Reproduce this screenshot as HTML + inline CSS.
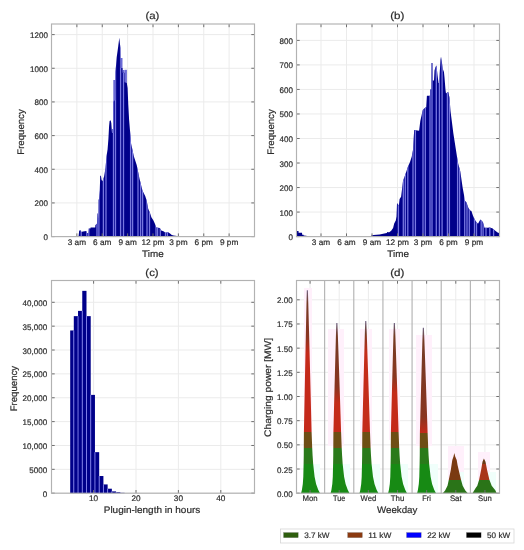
<!DOCTYPE html><html><head><meta charset="utf-8"><style>html,body{margin:0;padding:0;background:#fff;width:524px;height:550px;overflow:hidden}svg{display:block;text-rendering:geometricPrecision;will-change:transform;filter:blur(0.35px)}</style></head><body><svg width="524" height="550" viewBox="0 0 524 550" font-family='"Liberation Sans", sans-serif' fill="#2c2c2c">
<rect width="524" height="550" fill="#fff"/>
<defs>
<linearGradient id="sat" gradientUnits="userSpaceOnUse" x1="0" y1="448" x2="0" y2="493">
<stop offset="0" stop-color="#7a3a12"/><stop offset="0.70" stop-color="#7a3a12"/>
<stop offset="0.70" stop-color="#2a7418"/><stop offset="1" stop-color="#2a7418"/>
</linearGradient>
<linearGradient id="sun" gradientUnits="userSpaceOnUse" x1="0" y1="448" x2="0" y2="493">
<stop offset="0" stop-color="#6a3a14"/><stop offset="0.355" stop-color="#6a3a14"/>
<stop offset="0.355" stop-color="#a8361a"/><stop offset="0.70" stop-color="#a8361a"/>
<stop offset="0.70" stop-color="#2a7418"/><stop offset="1" stop-color="#2a7418"/>
</linearGradient>
</defs>
<line x1="76.88" y1="24.0" x2="76.88" y2="236.6" stroke="#ebebeb" stroke-width="1"/>
<line x1="102.25" y1="24.0" x2="102.25" y2="236.6" stroke="#ebebeb" stroke-width="1"/>
<line x1="127.62" y1="24.0" x2="127.62" y2="236.6" stroke="#ebebeb" stroke-width="1"/>
<line x1="153.00" y1="24.0" x2="153.00" y2="236.6" stroke="#ebebeb" stroke-width="1"/>
<line x1="178.38" y1="24.0" x2="178.38" y2="236.6" stroke="#ebebeb" stroke-width="1"/>
<line x1="203.75" y1="24.0" x2="203.75" y2="236.6" stroke="#ebebeb" stroke-width="1"/>
<line x1="229.12" y1="24.0" x2="229.12" y2="236.6" stroke="#ebebeb" stroke-width="1"/>
<line x1="51.5" y1="236.60" x2="254.5" y2="236.60" stroke="#ebebeb" stroke-width="1"/>
<line x1="51.5" y1="202.93" x2="254.5" y2="202.93" stroke="#ebebeb" stroke-width="1"/>
<line x1="51.5" y1="169.27" x2="254.5" y2="169.27" stroke="#ebebeb" stroke-width="1"/>
<line x1="51.5" y1="135.60" x2="254.5" y2="135.60" stroke="#ebebeb" stroke-width="1"/>
<line x1="51.5" y1="101.93" x2="254.5" y2="101.93" stroke="#ebebeb" stroke-width="1"/>
<line x1="51.5" y1="68.27" x2="254.5" y2="68.27" stroke="#ebebeb" stroke-width="1"/>
<line x1="51.5" y1="34.60" x2="254.5" y2="34.60" stroke="#ebebeb" stroke-width="1"/>
<line x1="321.00" y1="24.0" x2="321.00" y2="236.6" stroke="#ebebeb" stroke-width="1"/>
<line x1="346.50" y1="24.0" x2="346.50" y2="236.6" stroke="#ebebeb" stroke-width="1"/>
<line x1="372.00" y1="24.0" x2="372.00" y2="236.6" stroke="#ebebeb" stroke-width="1"/>
<line x1="397.50" y1="24.0" x2="397.50" y2="236.6" stroke="#ebebeb" stroke-width="1"/>
<line x1="423.00" y1="24.0" x2="423.00" y2="236.6" stroke="#ebebeb" stroke-width="1"/>
<line x1="448.50" y1="24.0" x2="448.50" y2="236.6" stroke="#ebebeb" stroke-width="1"/>
<line x1="474.00" y1="24.0" x2="474.00" y2="236.6" stroke="#ebebeb" stroke-width="1"/>
<line x1="296.5" y1="236.60" x2="499.5" y2="236.60" stroke="#ebebeb" stroke-width="1"/>
<line x1="296.5" y1="212.07" x2="499.5" y2="212.07" stroke="#ebebeb" stroke-width="1"/>
<line x1="296.5" y1="187.55" x2="499.5" y2="187.55" stroke="#ebebeb" stroke-width="1"/>
<line x1="296.5" y1="163.02" x2="499.5" y2="163.02" stroke="#ebebeb" stroke-width="1"/>
<line x1="296.5" y1="138.50" x2="499.5" y2="138.50" stroke="#ebebeb" stroke-width="1"/>
<line x1="296.5" y1="113.97" x2="499.5" y2="113.97" stroke="#ebebeb" stroke-width="1"/>
<line x1="296.5" y1="89.45" x2="499.5" y2="89.45" stroke="#ebebeb" stroke-width="1"/>
<line x1="296.5" y1="64.92" x2="499.5" y2="64.92" stroke="#ebebeb" stroke-width="1"/>
<line x1="296.5" y1="40.40" x2="499.5" y2="40.40" stroke="#ebebeb" stroke-width="1"/>
<line x1="93.60" y1="280.5" x2="93.60" y2="493.2" stroke="#ebebeb" stroke-width="1"/>
<line x1="136.00" y1="280.5" x2="136.00" y2="493.2" stroke="#ebebeb" stroke-width="1"/>
<line x1="178.40" y1="280.5" x2="178.40" y2="493.2" stroke="#ebebeb" stroke-width="1"/>
<line x1="220.80" y1="280.5" x2="220.80" y2="493.2" stroke="#ebebeb" stroke-width="1"/>
<line x1="51.5" y1="493.20" x2="254.5" y2="493.20" stroke="#ebebeb" stroke-width="1"/>
<line x1="51.5" y1="469.34" x2="254.5" y2="469.34" stroke="#ebebeb" stroke-width="1"/>
<line x1="51.5" y1="445.48" x2="254.5" y2="445.48" stroke="#ebebeb" stroke-width="1"/>
<line x1="51.5" y1="421.61" x2="254.5" y2="421.61" stroke="#ebebeb" stroke-width="1"/>
<line x1="51.5" y1="397.75" x2="254.5" y2="397.75" stroke="#ebebeb" stroke-width="1"/>
<line x1="51.5" y1="373.89" x2="254.5" y2="373.89" stroke="#ebebeb" stroke-width="1"/>
<line x1="51.5" y1="350.02" x2="254.5" y2="350.02" stroke="#ebebeb" stroke-width="1"/>
<line x1="51.5" y1="326.16" x2="254.5" y2="326.16" stroke="#ebebeb" stroke-width="1"/>
<line x1="51.5" y1="302.30" x2="254.5" y2="302.30" stroke="#ebebeb" stroke-width="1"/>
<line x1="310.07" y1="280.5" x2="310.07" y2="493.2" stroke="#ebebeb" stroke-width="1"/>
<line x1="339.21" y1="280.5" x2="339.21" y2="493.2" stroke="#ebebeb" stroke-width="1"/>
<line x1="368.36" y1="280.5" x2="368.36" y2="493.2" stroke="#ebebeb" stroke-width="1"/>
<line x1="397.50" y1="280.5" x2="397.50" y2="493.2" stroke="#ebebeb" stroke-width="1"/>
<line x1="426.64" y1="280.5" x2="426.64" y2="493.2" stroke="#ebebeb" stroke-width="1"/>
<line x1="455.79" y1="280.5" x2="455.79" y2="493.2" stroke="#ebebeb" stroke-width="1"/>
<line x1="484.93" y1="280.5" x2="484.93" y2="493.2" stroke="#ebebeb" stroke-width="1"/>
<line x1="296.5" y1="493.20" x2="499.5" y2="493.20" stroke="#ebebeb" stroke-width="1"/>
<line x1="296.5" y1="469.02" x2="499.5" y2="469.02" stroke="#ebebeb" stroke-width="1"/>
<line x1="296.5" y1="444.85" x2="499.5" y2="444.85" stroke="#ebebeb" stroke-width="1"/>
<line x1="296.5" y1="420.68" x2="499.5" y2="420.68" stroke="#ebebeb" stroke-width="1"/>
<line x1="296.5" y1="396.50" x2="499.5" y2="396.50" stroke="#ebebeb" stroke-width="1"/>
<line x1="296.5" y1="372.32" x2="499.5" y2="372.32" stroke="#ebebeb" stroke-width="1"/>
<line x1="296.5" y1="348.15" x2="499.5" y2="348.15" stroke="#ebebeb" stroke-width="1"/>
<line x1="296.5" y1="323.98" x2="499.5" y2="323.98" stroke="#ebebeb" stroke-width="1"/>
<line x1="296.5" y1="299.80" x2="499.5" y2="299.80" stroke="#ebebeb" stroke-width="1"/>
<clipPath id="ca"><polygon points="76.50,236.50 76.50,236.50 78.60,236.00 79.20,230.50 81.00,230.50 81.20,232.00 83.00,231.50 86.30,231.00 86.80,233.00 88.50,233.00 88.80,228.50 90.40,228.50 90.60,227.50 95.20,227.50 95.40,225.00 96.90,224.00 97.20,220.00 97.50,213.50 98.00,213.50 98.20,218.00 98.50,218.00 98.60,200.00 99.10,198.70 99.80,190.00 100.20,176.00 100.90,175.50 101.60,180.00 102.50,181.30 104.00,177.00 105.50,168.00 106.50,156.50 107.60,149.30 108.40,139.00 109.10,126.00 109.60,121.00 110.60,120.20 111.30,123.00 112.00,133.00 113.20,133.00 113.30,102.00 115.20,100.00 115.50,72.00 116.70,57.30 118.20,46.40 119.30,37.80 120.40,48.00 120.60,68.00 122.50,68.00 122.60,72.70 124.50,72.70 124.60,82.20 126.80,83.00 127.60,88.00 128.30,105.00 129.10,119.70 131.10,143.70 133.90,156.50 136.70,165.00 139.60,179.00 142.40,190.50 145.20,196.00 146.50,200.00 148.20,208.70 150.00,213.00 151.50,217.40 153.30,220.30 154.70,223.30 156.20,227.60 159.80,228.00 161.30,230.50 163.40,231.20 165.60,232.70 167.80,232.00 170.00,233.40 171.80,234.90 173.60,235.60 177.00,236.00 177.50,236.60 177.50,236.50"/></clipPath>
<clipPath id="cb"><polygon points="296.30,236.50 296.30,231.00 298.50,231.00 298.60,232.80 302.00,232.80 302.20,234.70 303.50,234.70 303.70,235.60 306.00,235.80 309.00,236.60 371.00,236.60 371.50,235.60 373.60,234.90 379.70,234.50 384.30,233.40 386.80,233.00 387.40,231.90 388.20,231.90 388.90,232.60 391.20,230.70 393.10,228.00 394.20,223.50 395.80,220.40 396.50,216.60 397.00,203.60 397.60,203.60 398.80,205.90 399.60,199.00 401.10,196.80 403.00,181.00 405.50,174.00 408.00,166.50 410.00,162.00 411.70,156.70 413.00,150.00 414.20,130.00 419.10,130.80 420.30,121.00 422.80,109.90 425.30,107.40 426.20,107.40 426.90,95.80 430.00,95.80 430.10,89.50 431.40,89.50 431.50,63.00 432.50,63.00 432.60,80.40 434.00,80.40 434.50,70.40 435.50,67.00 436.50,65.40 437.50,74.90 438.50,83.00 439.00,83.00 439.50,77.60 440.50,59.50 441.00,56.70 442.00,63.00 443.00,72.00 443.70,69.50 444.50,77.60 445.50,90.00 446.00,93.60 447.60,92.20 448.40,92.20 449.50,98.00 450.50,111.00 452.00,122.70 453.30,133.00 455.60,147.80 458.00,163.10 460.30,171.40 462.70,187.90 464.00,195.00 464.50,200.30 466.50,202.40 468.10,207.30 469.80,210.20 471.40,211.00 473.10,215.90 474.70,219.60 476.30,222.00 478.00,223.70 479.50,221.00 480.40,219.60 482.90,222.00 484.50,227.80 487.40,227.80 489.90,227.40 492.70,228.60 495.60,231.00 498.00,232.70 499.50,233.00 499.50,236.50"/></clipPath>
<rect x="113.30" y="80.00" width="2.20" height="156.50" fill="#6a6ad6"/>
<rect x="120.40" y="58.00" width="2.10" height="178.50" fill="#6a6ad6"/>
<rect x="122.50" y="70.00" width="2.00" height="166.50" fill="#6a6ad6"/>
<rect x="124.50" y="69.80" width="2.40" height="166.70" fill="#6a6ad6"/>
<rect x="112.00" y="129.00" width="1.30" height="107.50" fill="#6a6ad6"/>
<polygon points="76.50,236.50 76.50,236.50 78.60,236.00 79.20,230.50 81.00,230.50 81.20,232.00 83.00,231.50 86.30,231.00 86.80,233.00 88.50,233.00 88.80,228.50 90.40,228.50 90.60,227.50 95.20,227.50 95.40,225.00 96.90,224.00 97.20,220.00 97.50,213.50 98.00,213.50 98.20,218.00 98.50,218.00 98.60,200.00 99.10,198.70 99.80,190.00 100.20,176.00 100.90,175.50 101.60,180.00 102.50,181.30 104.00,177.00 105.50,168.00 106.50,156.50 107.60,149.30 108.40,139.00 109.10,126.00 109.60,121.00 110.60,120.20 111.30,123.00 112.00,133.00 113.20,133.00 113.30,102.00 115.20,100.00 115.50,72.00 116.70,57.30 118.20,46.40 119.30,37.80 120.40,48.00 120.60,68.00 122.50,68.00 122.60,72.70 124.50,72.70 124.60,82.20 126.80,83.00 127.60,88.00 128.30,105.00 129.10,119.70 131.10,143.70 133.90,156.50 136.70,165.00 139.60,179.00 142.40,190.50 145.20,196.00 146.50,200.00 148.20,208.70 150.00,213.00 151.50,217.40 153.30,220.30 154.70,223.30 156.20,227.60 159.80,228.00 161.30,230.50 163.40,231.20 165.60,232.70 167.80,232.00 170.00,233.40 171.80,234.90 173.60,235.60 177.00,236.00 177.50,236.60 177.50,236.50" fill="#00008a"/>
<polygon points="296.30,236.50 296.30,231.00 298.50,231.00 298.60,232.80 302.00,232.80 302.20,234.70 303.50,234.70 303.70,235.60 306.00,235.80 309.00,236.60 371.00,236.60 371.50,235.60 373.60,234.90 379.70,234.50 384.30,233.40 386.80,233.00 387.40,231.90 388.20,231.90 388.90,232.60 391.20,230.70 393.10,228.00 394.20,223.50 395.80,220.40 396.50,216.60 397.00,203.60 397.60,203.60 398.80,205.90 399.60,199.00 401.10,196.80 403.00,181.00 405.50,174.00 408.00,166.50 410.00,162.00 411.70,156.70 413.00,150.00 414.20,130.00 419.10,130.80 420.30,121.00 422.80,109.90 425.30,107.40 426.20,107.40 426.90,95.80 430.00,95.80 430.10,89.50 431.40,89.50 431.50,63.00 432.50,63.00 432.60,80.40 434.00,80.40 434.50,70.40 435.50,67.00 436.50,65.40 437.50,74.90 438.50,83.00 439.00,83.00 439.50,77.60 440.50,59.50 441.00,56.70 442.00,63.00 443.00,72.00 443.70,69.50 444.50,77.60 445.50,90.00 446.00,93.60 447.60,92.20 448.40,92.20 449.50,98.00 450.50,111.00 452.00,122.70 453.30,133.00 455.60,147.80 458.00,163.10 460.30,171.40 462.70,187.90 464.00,195.00 464.50,200.30 466.50,202.40 468.10,207.30 469.80,210.20 471.40,211.00 473.10,215.90 474.70,219.60 476.30,222.00 478.00,223.70 479.50,221.00 480.40,219.60 482.90,222.00 484.50,227.80 487.40,227.80 489.90,227.40 492.70,228.60 495.60,231.00 498.00,232.70 499.50,233.00 499.50,236.50" fill="#00008a"/>
<g clip-path="url(#ca)"><rect x="80.55" y="24" width="1.3" height="213" fill="#7676e0"/><rect x="86.15" y="24" width="1.3" height="213" fill="#7676e0"/><rect x="88.15" y="24" width="1.3" height="213" fill="#7676e0"/><rect x="96.35" y="24" width="1.3" height="213" fill="#7676e0"/><rect x="98.25" y="24" width="1.3" height="213" fill="#7676e0"/><rect x="102.75" y="24" width="1.3" height="213" fill="#7676e0"/><rect x="105.35" y="24" width="1.3" height="213" fill="#7676e0"/><rect x="112.85" y="24" width="1.3" height="213" fill="#7676e0"/><rect x="114.85" y="24" width="1.3" height="213" fill="#7676e0"/><rect x="119.95" y="24" width="1.3" height="213" fill="#7676e0"/><rect x="122.85" y="24" width="1.3" height="213" fill="#7676e0"/><rect x="129.95" y="24" width="1.3" height="213" fill="#7676e0"/><rect x="131.95" y="24" width="1.3" height="213" fill="#7676e0"/><rect x="137.35" y="24" width="1.3" height="213" fill="#7676e0"/><rect x="139.95" y="24" width="1.3" height="213" fill="#7676e0"/><rect x="141.95" y="24" width="1.3" height="213" fill="#7676e0"/><rect x="146.35" y="24" width="1.3" height="213" fill="#7676e0"/><rect x="148.85" y="24" width="1.3" height="213" fill="#7676e0"/><rect x="155.35" y="24" width="1.3" height="213" fill="#7676e0"/><rect x="156.95" y="24" width="1.3" height="213" fill="#7676e0"/><rect x="159.65" y="24" width="1.3" height="213" fill="#7676e0"/><rect x="164.85" y="24" width="1.3" height="213" fill="#7676e0"/><rect x="166.75" y="24" width="1.3" height="213" fill="#7676e0"/></g>
<g clip-path="url(#cb)"><rect x="397.75" y="24" width="1.3" height="213" fill="#7676e0"/><rect x="402.65" y="24" width="1.3" height="213" fill="#7676e0"/><rect x="404.65" y="24" width="1.3" height="213" fill="#7676e0"/><rect x="407.15" y="24" width="1.3" height="213" fill="#7676e0"/><rect x="412.35" y="24" width="1.3" height="213" fill="#7676e0"/><rect x="414.75" y="24" width="1.3" height="213" fill="#7676e0"/><rect x="422.35" y="24" width="1.3" height="213" fill="#7676e0"/><rect x="424.65" y="24" width="1.3" height="213" fill="#7676e0"/><rect x="429.35" y="24" width="1.3" height="213" fill="#7676e0"/><rect x="431.35" y="24" width="1.3" height="213" fill="#7676e0"/><rect x="435.65" y="24" width="1.3" height="213" fill="#7676e0"/><rect x="438.75" y="24" width="1.3" height="213" fill="#7676e0"/><rect x="441.45" y="24" width="1.3" height="213" fill="#7676e0"/><rect x="446.75" y="24" width="1.3" height="213" fill="#7676e0"/><rect x="448.75" y="24" width="1.3" height="213" fill="#7676e0"/><rect x="456.95" y="24" width="1.3" height="213" fill="#7676e0"/><rect x="458.95" y="24" width="1.3" height="213" fill="#7676e0"/><rect x="464.05" y="24" width="1.3" height="213" fill="#7676e0"/><rect x="466.35" y="24" width="1.3" height="213" fill="#7676e0"/><rect x="468.65" y="24" width="1.3" height="213" fill="#7676e0"/><rect x="473.85" y="24" width="1.3" height="213" fill="#7676e0"/><rect x="475.85" y="24" width="1.3" height="213" fill="#7676e0"/><rect x="480.55" y="24" width="1.3" height="213" fill="#7676e0"/><rect x="482.45" y="24" width="1.3" height="213" fill="#7676e0"/><rect x="485.35" y="24" width="1.3" height="213" fill="#7676e0"/><rect x="489.15" y="24" width="1.3" height="213" fill="#7676e0"/><rect x="492.95" y="24" width="1.3" height="213" fill="#7676e0"/></g>
<rect x="70.20" y="330.46" width="3.60" height="162.74" fill="#00008a"/>
<rect x="73.80" y="316.14" width="4.23" height="177.06" fill="#00008a"/>
<rect x="78.03" y="310.89" width="4.23" height="182.31" fill="#00008a"/>
<rect x="82.26" y="290.85" width="4.23" height="202.35" fill="#00008a"/>
<rect x="86.49" y="316.14" width="4.23" height="177.06" fill="#00008a"/>
<rect x="90.72" y="394.89" width="4.23" height="98.31" fill="#00008a"/>
<rect x="94.95" y="452.16" width="4.23" height="41.04" fill="#00008a"/>
<rect x="99.18" y="476.02" width="4.23" height="17.18" fill="#00008a"/>
<rect x="103.41" y="484.42" width="4.23" height="8.78" fill="#00008a"/>
<rect x="107.64" y="488.71" width="4.23" height="4.49" fill="#00008a"/>
<rect x="111.87" y="491.39" width="4.23" height="1.81" fill="#00008a"/>
<rect x="116.10" y="492.25" width="4.23" height="0.95" fill="#00008a"/>
<rect x="120.33" y="492.82" width="4.23" height="0.38" fill="#00008a"/>
<rect x="73.35" y="330.46" width="0.9" height="162.74" fill="#8484ee"/>
<rect x="77.58" y="316.14" width="0.9" height="177.06" fill="#8484ee"/>
<rect x="81.81" y="310.89" width="0.9" height="182.31" fill="#8484ee"/>
<rect x="86.04" y="316.14" width="0.9" height="177.06" fill="#8484ee"/>
<rect x="90.27" y="394.89" width="0.9" height="98.31" fill="#8484ee"/>
<rect x="94.50" y="452.16" width="0.9" height="41.04" fill="#8484ee"/>
<rect x="98.73" y="476.02" width="0.9" height="17.18" fill="#8484ee"/>
<rect x="102.96" y="484.42" width="0.9" height="8.78" fill="#8484ee"/>
<rect x="107.19" y="488.71" width="0.9" height="4.49" fill="#8484ee"/>
<rect x="111.42" y="491.39" width="0.9" height="1.81" fill="#8484ee"/>
<rect x="115.65" y="492.25" width="0.9" height="0.95" fill="#8484ee"/>
<rect x="119.88" y="492.82" width="0.9" height="0.38" fill="#8484ee"/>
<rect x="304" y="288" width="8" height="152" fill="#fff0fb"/>
<rect x="328" y="329" width="16" height="117" fill="#fff0fb"/>
<rect x="360" y="329" width="12" height="117" fill="#fff0fb"/>
<rect x="389" y="329" width="11" height="111" fill="#fff0fb"/>
<rect x="416" y="335" width="16" height="111" fill="#fff0fb"/>
<rect x="448" y="446" width="16" height="34" fill="#fff0fb"/>
<rect x="478" y="452" width="12" height="28" fill="#fff0fb"/>
<rect x="312" y="464" width="8" height="30" fill="#f0fffb"/>
<rect x="342" y="464" width="8" height="30" fill="#f0fffb"/>
<rect x="372" y="464" width="8" height="30" fill="#f0fffb"/>
<rect x="400" y="464" width="8" height="30" fill="#f0fffb"/>
<rect x="430" y="464" width="8" height="30" fill="#f0fffb"/>
<rect x="456" y="472" width="8" height="22" fill="#f0fffb"/>
<rect x="488" y="472" width="8" height="22" fill="#f0fffb"/>
<line x1="324.64" y1="280.5" x2="324.64" y2="493.2" stroke="#b0b0b0" stroke-width="1.1"/>
<line x1="353.79" y1="280.5" x2="353.79" y2="493.2" stroke="#b0b0b0" stroke-width="1.1"/>
<line x1="382.93" y1="280.5" x2="382.93" y2="493.2" stroke="#b0b0b0" stroke-width="1.1"/>
<line x1="412.07" y1="280.5" x2="412.07" y2="493.2" stroke="#b0b0b0" stroke-width="1.1"/>
<line x1="441.21" y1="280.5" x2="441.21" y2="493.2" stroke="#b0b0b0" stroke-width="1.1"/>
<line x1="470.36" y1="280.5" x2="470.36" y2="493.2" stroke="#b0b0b0" stroke-width="1.1"/>
<defs><linearGradient id="wk0" gradientUnits="userSpaceOnUse" x1="0" y1="290.13" x2="0" y2="493.2">
<stop offset="0" stop-color="#6c6080"/><stop offset="0.0640" stop-color="#743a24"/>
<stop offset="0.2308" stop-color="#8a3420"/><stop offset="0.3096" stop-color="#c42a1a"/>
<stop offset="0.6986" stop-color="#c42a1a"/><stop offset="0.6986" stop-color="#6e4e14"/>
<stop offset="0.7774" stop-color="#6e4e14"/><stop offset="0.7774" stop-color="#2a7a1a"/>
<stop offset="0.8562" stop-color="#2a7a1a"/><stop offset="0.8562" stop-color="#178a14"/>
<stop offset="1" stop-color="#178a14"/></linearGradient></defs>
<polygon points="306.80,290.13 306.53,301.98 306.27,313.82 306.02,325.67 305.78,337.51 305.54,349.36 305.30,361.20 305.06,373.05 304.83,384.90 304.59,396.74 304.36,408.59 304.13,420.43 303.90,432.28 303.80,447.75 303.75,455.49 303.60,464.19 303.30,476.76 302.80,484.01 301.90,490.01 301.10,493.20 320.00,493.20 318.30,490.01 316.10,484.01 314.60,476.76 313.20,464.19 312.60,455.49 312.20,447.75 311.60,432.28 311.31,420.43 311.01,408.59 310.72,396.74 310.42,384.90 310.12,373.05 309.82,361.20 309.51,349.36 309.20,337.51 308.89,325.67 308.57,313.82 308.25,301.98 307.90,290.13" fill="url(#wk0)"/>
<defs><linearGradient id="wk1" gradientUnits="userSpaceOnUse" x1="0" y1="323.01" x2="0" y2="493.2">
<stop offset="0" stop-color="#6c6080"/><stop offset="0.0764" stop-color="#743a24"/>
<stop offset="0.3760" stop-color="#8a3420"/><stop offset="0.4700" stop-color="#c42a1a"/>
<stop offset="0.6404" stop-color="#c42a1a"/><stop offset="0.6404" stop-color="#6e4e14"/>
<stop offset="0.7344" stop-color="#6e4e14"/><stop offset="0.7344" stop-color="#2a7a1a"/>
<stop offset="0.8284" stop-color="#2a7a1a"/><stop offset="0.8284" stop-color="#178a14"/>
<stop offset="1" stop-color="#178a14"/></linearGradient></defs>
<polygon points="336.30,323.01 336.03,332.11 335.77,341.22 335.52,350.33 335.28,359.43 335.04,368.54 334.80,377.64 334.56,386.75 334.33,395.86 334.09,404.96 333.86,414.07 333.63,423.17 333.40,432.28 333.30,447.75 333.25,455.49 333.10,464.19 332.80,476.76 332.30,484.01 331.40,490.01 330.60,493.20 349.50,493.20 347.80,490.01 345.60,484.01 344.10,476.76 342.70,464.19 342.10,455.49 341.70,447.75 341.10,432.28 340.81,423.17 340.51,414.07 340.22,404.96 339.92,395.86 339.62,386.75 339.32,377.64 339.01,368.54 338.70,359.43 338.39,350.33 338.07,341.22 337.75,332.11 337.40,323.01" fill="url(#wk1)"/>
<defs><linearGradient id="wk2" gradientUnits="userSpaceOnUse" x1="0" y1="321.07" x2="0" y2="493.2">
<stop offset="0" stop-color="#6c6080"/><stop offset="0.0755" stop-color="#743a24"/>
<stop offset="0.0925" stop-color="#8a3420"/><stop offset="0.1855" stop-color="#c42a1a"/>
<stop offset="0.6444" stop-color="#c42a1a"/><stop offset="0.6444" stop-color="#6e4e14"/>
<stop offset="0.7374" stop-color="#6e4e14"/><stop offset="0.7374" stop-color="#2a7a1a"/>
<stop offset="0.8304" stop-color="#2a7a1a"/><stop offset="0.8304" stop-color="#178a14"/>
<stop offset="1" stop-color="#178a14"/></linearGradient></defs>
<polygon points="365.20,321.07 364.93,330.34 364.67,339.61 364.42,348.88 364.18,358.14 363.94,367.41 363.70,376.68 363.46,385.94 363.23,395.21 362.99,404.48 362.76,413.74 362.53,423.01 362.30,432.28 362.20,447.75 362.15,455.49 362.00,464.19 361.70,476.76 361.20,484.01 360.30,490.01 359.50,493.20 378.40,493.20 376.70,490.01 374.50,484.01 373.00,476.76 371.60,464.19 371.00,455.49 370.60,447.75 370.00,432.28 369.71,423.01 369.41,413.74 369.12,404.48 368.82,395.21 368.52,385.94 368.22,376.68 367.91,367.41 367.60,358.14 367.29,348.88 366.97,339.61 366.65,330.34 366.30,321.07" fill="url(#wk2)"/>
<defs><linearGradient id="wk3" gradientUnits="userSpaceOnUse" x1="0" y1="323.01" x2="0" y2="493.2">
<stop offset="0" stop-color="#6c6080"/><stop offset="0.0764" stop-color="#743a24"/>
<stop offset="0.3172" stop-color="#8a3420"/><stop offset="0.4113" stop-color="#c42a1a"/>
<stop offset="0.6404" stop-color="#c42a1a"/><stop offset="0.6404" stop-color="#6e4e14"/>
<stop offset="0.7344" stop-color="#6e4e14"/><stop offset="0.7344" stop-color="#2a7a1a"/>
<stop offset="0.8284" stop-color="#2a7a1a"/><stop offset="0.8284" stop-color="#178a14"/>
<stop offset="1" stop-color="#178a14"/></linearGradient></defs>
<polygon points="393.80,323.01 393.53,332.11 393.27,341.22 393.02,350.33 392.78,359.43 392.54,368.54 392.30,377.64 392.06,386.75 391.83,395.86 391.59,404.96 391.36,414.07 391.13,423.17 390.90,432.28 390.80,447.75 390.75,455.49 390.60,464.19 390.30,476.76 389.80,484.01 388.90,490.01 388.10,493.20 407.00,493.20 405.30,490.01 403.10,484.01 401.60,476.76 400.20,464.19 399.60,455.49 399.20,447.75 398.60,432.28 398.31,423.17 398.01,414.07 397.72,404.96 397.42,395.86 397.12,386.75 396.82,377.64 396.51,368.54 396.20,359.43 395.89,350.33 395.57,341.22 395.25,332.11 394.90,323.01" fill="url(#wk3)"/>
<defs><linearGradient id="wk4" gradientUnits="userSpaceOnUse" x1="0" y1="327.84" x2="0" y2="493.2">
<stop offset="0" stop-color="#6c6080"/><stop offset="0.0786" stop-color="#743a24"/>
<stop offset="0.5392" stop-color="#8a3420"/><stop offset="0.6359" stop-color="#c42a1a"/>
<stop offset="0.6299" stop-color="#c42a1a"/><stop offset="0.6299" stop-color="#6e4e14"/>
<stop offset="0.7267" stop-color="#6e4e14"/><stop offset="0.7267" stop-color="#2a7a1a"/>
<stop offset="0.8234" stop-color="#2a7a1a"/><stop offset="0.8234" stop-color="#178a14"/>
<stop offset="1" stop-color="#178a14"/></linearGradient></defs>
<polygon points="422.80,327.84 422.53,336.55 422.27,345.25 422.02,353.95 421.78,362.66 421.54,371.36 421.30,380.06 421.06,388.76 420.83,397.47 420.59,406.17 420.36,414.87 420.13,423.58 419.90,432.28 419.80,447.75 419.75,455.49 419.60,464.19 419.30,476.76 418.80,484.01 417.90,490.01 417.10,493.20 436.00,493.20 434.30,490.01 432.10,484.01 430.60,476.76 429.20,464.19 428.60,455.49 428.20,447.75 427.60,432.28 427.31,423.58 427.01,414.87 426.72,406.17 426.42,397.47 426.12,388.76 425.82,380.06 425.51,371.36 425.20,362.66 424.89,353.95 424.57,345.25 424.25,336.55 423.90,327.84" fill="url(#wk4)"/>
<polygon points="454.30,452.97 453.50,456.45 452.30,459.94 451.50,465.16 450.80,469.99 448.80,479.66 447.50,485.66 445.10,490.59 442.80,493.20 467.80,493.20 465.30,490.59 462.70,485.66 461.00,479.66 458.70,469.99 457.60,465.16 456.70,459.94 455.20,456.45 454.30,452.97" fill="url(#sat)"/>
<polygon points="483.90,458.58 482.50,461.77 481.10,469.99 479.10,479.66 477.30,485.66 475.50,488.37 474.30,490.30 472.50,493.20 496.70,493.20 495.30,490.30 493.70,488.37 491.70,485.66 489.40,479.66 487.10,469.99 485.50,461.77 483.90,458.58" fill="url(#sun)"/>
<line x1="76.88" y1="236.6" x2="76.88" y2="233.4" stroke="#6e6e6e" stroke-width="1.0"/>
<line x1="76.88" y1="24.0" x2="76.88" y2="27.2" stroke="#6e6e6e" stroke-width="1.0"/>
<line x1="102.25" y1="236.6" x2="102.25" y2="233.4" stroke="#6e6e6e" stroke-width="1.0"/>
<line x1="102.25" y1="24.0" x2="102.25" y2="27.2" stroke="#6e6e6e" stroke-width="1.0"/>
<line x1="127.62" y1="236.6" x2="127.62" y2="233.4" stroke="#6e6e6e" stroke-width="1.0"/>
<line x1="127.62" y1="24.0" x2="127.62" y2="27.2" stroke="#6e6e6e" stroke-width="1.0"/>
<line x1="153.00" y1="236.6" x2="153.00" y2="233.4" stroke="#6e6e6e" stroke-width="1.0"/>
<line x1="153.00" y1="24.0" x2="153.00" y2="27.2" stroke="#6e6e6e" stroke-width="1.0"/>
<line x1="178.38" y1="236.6" x2="178.38" y2="233.4" stroke="#6e6e6e" stroke-width="1.0"/>
<line x1="178.38" y1="24.0" x2="178.38" y2="27.2" stroke="#6e6e6e" stroke-width="1.0"/>
<line x1="203.75" y1="236.6" x2="203.75" y2="233.4" stroke="#6e6e6e" stroke-width="1.0"/>
<line x1="203.75" y1="24.0" x2="203.75" y2="27.2" stroke="#6e6e6e" stroke-width="1.0"/>
<line x1="229.12" y1="236.6" x2="229.12" y2="233.4" stroke="#6e6e6e" stroke-width="1.0"/>
<line x1="229.12" y1="24.0" x2="229.12" y2="27.2" stroke="#6e6e6e" stroke-width="1.0"/>
<line x1="51.5" y1="236.60" x2="54.7" y2="236.60" stroke="#6e6e6e" stroke-width="1.0"/>
<line x1="254.5" y1="236.60" x2="251.3" y2="236.60" stroke="#6e6e6e" stroke-width="1.0"/>
<line x1="51.5" y1="202.93" x2="54.7" y2="202.93" stroke="#6e6e6e" stroke-width="1.0"/>
<line x1="254.5" y1="202.93" x2="251.3" y2="202.93" stroke="#6e6e6e" stroke-width="1.0"/>
<line x1="51.5" y1="169.27" x2="54.7" y2="169.27" stroke="#6e6e6e" stroke-width="1.0"/>
<line x1="254.5" y1="169.27" x2="251.3" y2="169.27" stroke="#6e6e6e" stroke-width="1.0"/>
<line x1="51.5" y1="135.60" x2="54.7" y2="135.60" stroke="#6e6e6e" stroke-width="1.0"/>
<line x1="254.5" y1="135.60" x2="251.3" y2="135.60" stroke="#6e6e6e" stroke-width="1.0"/>
<line x1="51.5" y1="101.93" x2="54.7" y2="101.93" stroke="#6e6e6e" stroke-width="1.0"/>
<line x1="254.5" y1="101.93" x2="251.3" y2="101.93" stroke="#6e6e6e" stroke-width="1.0"/>
<line x1="51.5" y1="68.27" x2="54.7" y2="68.27" stroke="#6e6e6e" stroke-width="1.0"/>
<line x1="254.5" y1="68.27" x2="251.3" y2="68.27" stroke="#6e6e6e" stroke-width="1.0"/>
<line x1="51.5" y1="34.60" x2="54.7" y2="34.60" stroke="#6e6e6e" stroke-width="1.0"/>
<line x1="254.5" y1="34.60" x2="251.3" y2="34.60" stroke="#6e6e6e" stroke-width="1.0"/>
<rect x="51.5" y="24.0" width="203.00" height="212.60" fill="none" stroke="#b2b2b2" stroke-width="1.15"/>
<line x1="321.00" y1="236.6" x2="321.00" y2="233.4" stroke="#6e6e6e" stroke-width="1.0"/>
<line x1="321.00" y1="24.0" x2="321.00" y2="27.2" stroke="#6e6e6e" stroke-width="1.0"/>
<line x1="346.50" y1="236.6" x2="346.50" y2="233.4" stroke="#6e6e6e" stroke-width="1.0"/>
<line x1="346.50" y1="24.0" x2="346.50" y2="27.2" stroke="#6e6e6e" stroke-width="1.0"/>
<line x1="372.00" y1="236.6" x2="372.00" y2="233.4" stroke="#6e6e6e" stroke-width="1.0"/>
<line x1="372.00" y1="24.0" x2="372.00" y2="27.2" stroke="#6e6e6e" stroke-width="1.0"/>
<line x1="397.50" y1="236.6" x2="397.50" y2="233.4" stroke="#6e6e6e" stroke-width="1.0"/>
<line x1="397.50" y1="24.0" x2="397.50" y2="27.2" stroke="#6e6e6e" stroke-width="1.0"/>
<line x1="423.00" y1="236.6" x2="423.00" y2="233.4" stroke="#6e6e6e" stroke-width="1.0"/>
<line x1="423.00" y1="24.0" x2="423.00" y2="27.2" stroke="#6e6e6e" stroke-width="1.0"/>
<line x1="448.50" y1="236.6" x2="448.50" y2="233.4" stroke="#6e6e6e" stroke-width="1.0"/>
<line x1="448.50" y1="24.0" x2="448.50" y2="27.2" stroke="#6e6e6e" stroke-width="1.0"/>
<line x1="474.00" y1="236.6" x2="474.00" y2="233.4" stroke="#6e6e6e" stroke-width="1.0"/>
<line x1="474.00" y1="24.0" x2="474.00" y2="27.2" stroke="#6e6e6e" stroke-width="1.0"/>
<line x1="296.5" y1="236.60" x2="299.7" y2="236.60" stroke="#6e6e6e" stroke-width="1.0"/>
<line x1="499.5" y1="236.60" x2="496.3" y2="236.60" stroke="#6e6e6e" stroke-width="1.0"/>
<line x1="296.5" y1="212.07" x2="299.7" y2="212.07" stroke="#6e6e6e" stroke-width="1.0"/>
<line x1="499.5" y1="212.07" x2="496.3" y2="212.07" stroke="#6e6e6e" stroke-width="1.0"/>
<line x1="296.5" y1="187.55" x2="299.7" y2="187.55" stroke="#6e6e6e" stroke-width="1.0"/>
<line x1="499.5" y1="187.55" x2="496.3" y2="187.55" stroke="#6e6e6e" stroke-width="1.0"/>
<line x1="296.5" y1="163.02" x2="299.7" y2="163.02" stroke="#6e6e6e" stroke-width="1.0"/>
<line x1="499.5" y1="163.02" x2="496.3" y2="163.02" stroke="#6e6e6e" stroke-width="1.0"/>
<line x1="296.5" y1="138.50" x2="299.7" y2="138.50" stroke="#6e6e6e" stroke-width="1.0"/>
<line x1="499.5" y1="138.50" x2="496.3" y2="138.50" stroke="#6e6e6e" stroke-width="1.0"/>
<line x1="296.5" y1="113.97" x2="299.7" y2="113.97" stroke="#6e6e6e" stroke-width="1.0"/>
<line x1="499.5" y1="113.97" x2="496.3" y2="113.97" stroke="#6e6e6e" stroke-width="1.0"/>
<line x1="296.5" y1="89.45" x2="299.7" y2="89.45" stroke="#6e6e6e" stroke-width="1.0"/>
<line x1="499.5" y1="89.45" x2="496.3" y2="89.45" stroke="#6e6e6e" stroke-width="1.0"/>
<line x1="296.5" y1="64.92" x2="299.7" y2="64.92" stroke="#6e6e6e" stroke-width="1.0"/>
<line x1="499.5" y1="64.92" x2="496.3" y2="64.92" stroke="#6e6e6e" stroke-width="1.0"/>
<line x1="296.5" y1="40.40" x2="299.7" y2="40.40" stroke="#6e6e6e" stroke-width="1.0"/>
<line x1="499.5" y1="40.40" x2="496.3" y2="40.40" stroke="#6e6e6e" stroke-width="1.0"/>
<rect x="296.5" y="24.0" width="203.00" height="212.60" fill="none" stroke="#b2b2b2" stroke-width="1.15"/>
<line x1="93.60" y1="493.2" x2="93.60" y2="490.0" stroke="#6e6e6e" stroke-width="1.0"/>
<line x1="93.60" y1="280.5" x2="93.60" y2="283.7" stroke="#6e6e6e" stroke-width="1.0"/>
<line x1="136.00" y1="493.2" x2="136.00" y2="490.0" stroke="#6e6e6e" stroke-width="1.0"/>
<line x1="136.00" y1="280.5" x2="136.00" y2="283.7" stroke="#6e6e6e" stroke-width="1.0"/>
<line x1="178.40" y1="493.2" x2="178.40" y2="490.0" stroke="#6e6e6e" stroke-width="1.0"/>
<line x1="178.40" y1="280.5" x2="178.40" y2="283.7" stroke="#6e6e6e" stroke-width="1.0"/>
<line x1="220.80" y1="493.2" x2="220.80" y2="490.0" stroke="#6e6e6e" stroke-width="1.0"/>
<line x1="220.80" y1="280.5" x2="220.80" y2="283.7" stroke="#6e6e6e" stroke-width="1.0"/>
<line x1="51.5" y1="493.20" x2="54.7" y2="493.20" stroke="#6e6e6e" stroke-width="1.0"/>
<line x1="254.5" y1="493.20" x2="251.3" y2="493.20" stroke="#6e6e6e" stroke-width="1.0"/>
<line x1="51.5" y1="469.34" x2="54.7" y2="469.34" stroke="#6e6e6e" stroke-width="1.0"/>
<line x1="254.5" y1="469.34" x2="251.3" y2="469.34" stroke="#6e6e6e" stroke-width="1.0"/>
<line x1="51.5" y1="445.48" x2="54.7" y2="445.48" stroke="#6e6e6e" stroke-width="1.0"/>
<line x1="254.5" y1="445.48" x2="251.3" y2="445.48" stroke="#6e6e6e" stroke-width="1.0"/>
<line x1="51.5" y1="421.61" x2="54.7" y2="421.61" stroke="#6e6e6e" stroke-width="1.0"/>
<line x1="254.5" y1="421.61" x2="251.3" y2="421.61" stroke="#6e6e6e" stroke-width="1.0"/>
<line x1="51.5" y1="397.75" x2="54.7" y2="397.75" stroke="#6e6e6e" stroke-width="1.0"/>
<line x1="254.5" y1="397.75" x2="251.3" y2="397.75" stroke="#6e6e6e" stroke-width="1.0"/>
<line x1="51.5" y1="373.89" x2="54.7" y2="373.89" stroke="#6e6e6e" stroke-width="1.0"/>
<line x1="254.5" y1="373.89" x2="251.3" y2="373.89" stroke="#6e6e6e" stroke-width="1.0"/>
<line x1="51.5" y1="350.02" x2="54.7" y2="350.02" stroke="#6e6e6e" stroke-width="1.0"/>
<line x1="254.5" y1="350.02" x2="251.3" y2="350.02" stroke="#6e6e6e" stroke-width="1.0"/>
<line x1="51.5" y1="326.16" x2="54.7" y2="326.16" stroke="#6e6e6e" stroke-width="1.0"/>
<line x1="254.5" y1="326.16" x2="251.3" y2="326.16" stroke="#6e6e6e" stroke-width="1.0"/>
<line x1="51.5" y1="302.30" x2="54.7" y2="302.30" stroke="#6e6e6e" stroke-width="1.0"/>
<line x1="254.5" y1="302.30" x2="251.3" y2="302.30" stroke="#6e6e6e" stroke-width="1.0"/>
<rect x="51.5" y="280.5" width="203.00" height="212.70" fill="none" stroke="#b2b2b2" stroke-width="1.15"/>
<line x1="310.07" y1="493.2" x2="310.07" y2="490.0" stroke="#6e6e6e" stroke-width="1.0"/>
<line x1="310.07" y1="280.5" x2="310.07" y2="283.7" stroke="#6e6e6e" stroke-width="1.0"/>
<line x1="339.21" y1="493.2" x2="339.21" y2="490.0" stroke="#6e6e6e" stroke-width="1.0"/>
<line x1="339.21" y1="280.5" x2="339.21" y2="283.7" stroke="#6e6e6e" stroke-width="1.0"/>
<line x1="368.36" y1="493.2" x2="368.36" y2="490.0" stroke="#6e6e6e" stroke-width="1.0"/>
<line x1="368.36" y1="280.5" x2="368.36" y2="283.7" stroke="#6e6e6e" stroke-width="1.0"/>
<line x1="397.50" y1="493.2" x2="397.50" y2="490.0" stroke="#6e6e6e" stroke-width="1.0"/>
<line x1="397.50" y1="280.5" x2="397.50" y2="283.7" stroke="#6e6e6e" stroke-width="1.0"/>
<line x1="426.64" y1="493.2" x2="426.64" y2="490.0" stroke="#6e6e6e" stroke-width="1.0"/>
<line x1="426.64" y1="280.5" x2="426.64" y2="283.7" stroke="#6e6e6e" stroke-width="1.0"/>
<line x1="455.79" y1="493.2" x2="455.79" y2="490.0" stroke="#6e6e6e" stroke-width="1.0"/>
<line x1="455.79" y1="280.5" x2="455.79" y2="283.7" stroke="#6e6e6e" stroke-width="1.0"/>
<line x1="484.93" y1="493.2" x2="484.93" y2="490.0" stroke="#6e6e6e" stroke-width="1.0"/>
<line x1="484.93" y1="280.5" x2="484.93" y2="283.7" stroke="#6e6e6e" stroke-width="1.0"/>
<line x1="296.5" y1="493.20" x2="299.7" y2="493.20" stroke="#6e6e6e" stroke-width="1.0"/>
<line x1="499.5" y1="493.20" x2="496.3" y2="493.20" stroke="#6e6e6e" stroke-width="1.0"/>
<line x1="296.5" y1="469.02" x2="299.7" y2="469.02" stroke="#6e6e6e" stroke-width="1.0"/>
<line x1="499.5" y1="469.02" x2="496.3" y2="469.02" stroke="#6e6e6e" stroke-width="1.0"/>
<line x1="296.5" y1="444.85" x2="299.7" y2="444.85" stroke="#6e6e6e" stroke-width="1.0"/>
<line x1="499.5" y1="444.85" x2="496.3" y2="444.85" stroke="#6e6e6e" stroke-width="1.0"/>
<line x1="296.5" y1="420.68" x2="299.7" y2="420.68" stroke="#6e6e6e" stroke-width="1.0"/>
<line x1="499.5" y1="420.68" x2="496.3" y2="420.68" stroke="#6e6e6e" stroke-width="1.0"/>
<line x1="296.5" y1="396.50" x2="299.7" y2="396.50" stroke="#6e6e6e" stroke-width="1.0"/>
<line x1="499.5" y1="396.50" x2="496.3" y2="396.50" stroke="#6e6e6e" stroke-width="1.0"/>
<line x1="296.5" y1="372.32" x2="299.7" y2="372.32" stroke="#6e6e6e" stroke-width="1.0"/>
<line x1="499.5" y1="372.32" x2="496.3" y2="372.32" stroke="#6e6e6e" stroke-width="1.0"/>
<line x1="296.5" y1="348.15" x2="299.7" y2="348.15" stroke="#6e6e6e" stroke-width="1.0"/>
<line x1="499.5" y1="348.15" x2="496.3" y2="348.15" stroke="#6e6e6e" stroke-width="1.0"/>
<line x1="296.5" y1="323.98" x2="299.7" y2="323.98" stroke="#6e6e6e" stroke-width="1.0"/>
<line x1="499.5" y1="323.98" x2="496.3" y2="323.98" stroke="#6e6e6e" stroke-width="1.0"/>
<line x1="296.5" y1="299.80" x2="299.7" y2="299.80" stroke="#6e6e6e" stroke-width="1.0"/>
<line x1="499.5" y1="299.80" x2="496.3" y2="299.80" stroke="#6e6e6e" stroke-width="1.0"/>
<rect x="296.5" y="280.5" width="203.00" height="212.70" fill="none" stroke="#b2b2b2" stroke-width="1.15"/>
<text x="76.88" y="245.10" font-size="8.1" text-anchor="middle" textLength="18.30" lengthAdjust="spacingAndGlyphs" stroke="#2c2c2c" stroke-width="0.2">3 am</text>
<text x="102.25" y="245.10" font-size="8.1" text-anchor="middle" textLength="18.30" lengthAdjust="spacingAndGlyphs" stroke="#2c2c2c" stroke-width="0.2">6 am</text>
<text x="127.62" y="245.10" font-size="8.1" text-anchor="middle" textLength="18.30" lengthAdjust="spacingAndGlyphs" stroke="#2c2c2c" stroke-width="0.2">9 am</text>
<text x="153.00" y="245.10" font-size="8.1" text-anchor="middle" textLength="23.03" lengthAdjust="spacingAndGlyphs" stroke="#2c2c2c" stroke-width="0.2">12 pm</text>
<text x="178.38" y="245.10" font-size="8.1" text-anchor="middle" textLength="18.45" lengthAdjust="spacingAndGlyphs" stroke="#2c2c2c" stroke-width="0.2">3 pm</text>
<text x="203.75" y="245.10" font-size="8.1" text-anchor="middle" textLength="18.45" lengthAdjust="spacingAndGlyphs" stroke="#2c2c2c" stroke-width="0.2">6 pm</text>
<text x="229.12" y="245.10" font-size="8.1" text-anchor="middle" textLength="18.45" lengthAdjust="spacingAndGlyphs" stroke="#2c2c2c" stroke-width="0.2">9 pm</text>
<text x="321.00" y="245.10" font-size="8.1" text-anchor="middle" textLength="18.30" lengthAdjust="spacingAndGlyphs" stroke="#2c2c2c" stroke-width="0.2">3 am</text>
<text x="346.50" y="245.10" font-size="8.1" text-anchor="middle" textLength="18.30" lengthAdjust="spacingAndGlyphs" stroke="#2c2c2c" stroke-width="0.2">6 am</text>
<text x="372.00" y="245.10" font-size="8.1" text-anchor="middle" textLength="18.30" lengthAdjust="spacingAndGlyphs" stroke="#2c2c2c" stroke-width="0.2">9 am</text>
<text x="397.50" y="245.10" font-size="8.1" text-anchor="middle" textLength="23.03" lengthAdjust="spacingAndGlyphs" stroke="#2c2c2c" stroke-width="0.2">12 pm</text>
<text x="423.00" y="245.10" font-size="8.1" text-anchor="middle" textLength="18.45" lengthAdjust="spacingAndGlyphs" stroke="#2c2c2c" stroke-width="0.2">3 pm</text>
<text x="448.50" y="245.10" font-size="8.1" text-anchor="middle" textLength="18.45" lengthAdjust="spacingAndGlyphs" stroke="#2c2c2c" stroke-width="0.2">6 pm</text>
<text x="474.00" y="245.10" font-size="8.1" text-anchor="middle" textLength="18.45" lengthAdjust="spacingAndGlyphs" stroke="#2c2c2c" stroke-width="0.2">9 pm</text>
<text x="47.90" y="240.10" font-size="8.1" text-anchor="end" textLength="4.45" lengthAdjust="spacingAndGlyphs" stroke="#2c2c2c" stroke-width="0.2">0</text>
<text x="47.90" y="206.43" font-size="8.1" text-anchor="end" textLength="13.36" lengthAdjust="spacingAndGlyphs" stroke="#2c2c2c" stroke-width="0.2">200</text>
<text x="47.90" y="172.77" font-size="8.1" text-anchor="end" textLength="13.36" lengthAdjust="spacingAndGlyphs" stroke="#2c2c2c" stroke-width="0.2">400</text>
<text x="47.90" y="139.10" font-size="8.1" text-anchor="end" textLength="13.36" lengthAdjust="spacingAndGlyphs" stroke="#2c2c2c" stroke-width="0.2">600</text>
<text x="47.90" y="105.43" font-size="8.1" text-anchor="end" textLength="13.36" lengthAdjust="spacingAndGlyphs" stroke="#2c2c2c" stroke-width="0.2">800</text>
<text x="47.90" y="71.77" font-size="8.1" text-anchor="end" textLength="17.81" lengthAdjust="spacingAndGlyphs" stroke="#2c2c2c" stroke-width="0.2">1000</text>
<text x="47.90" y="38.10" font-size="8.1" text-anchor="end" textLength="17.81" lengthAdjust="spacingAndGlyphs" stroke="#2c2c2c" stroke-width="0.2">1200</text>
<text x="292.90" y="240.10" font-size="8.1" text-anchor="end" textLength="4.45" lengthAdjust="spacingAndGlyphs" stroke="#2c2c2c" stroke-width="0.2">0</text>
<text x="292.90" y="215.57" font-size="8.1" text-anchor="end" textLength="13.36" lengthAdjust="spacingAndGlyphs" stroke="#2c2c2c" stroke-width="0.2">100</text>
<text x="292.90" y="191.05" font-size="8.1" text-anchor="end" textLength="13.36" lengthAdjust="spacingAndGlyphs" stroke="#2c2c2c" stroke-width="0.2">200</text>
<text x="292.90" y="166.52" font-size="8.1" text-anchor="end" textLength="13.36" lengthAdjust="spacingAndGlyphs" stroke="#2c2c2c" stroke-width="0.2">300</text>
<text x="292.90" y="142.00" font-size="8.1" text-anchor="end" textLength="13.36" lengthAdjust="spacingAndGlyphs" stroke="#2c2c2c" stroke-width="0.2">400</text>
<text x="292.90" y="117.47" font-size="8.1" text-anchor="end" textLength="13.36" lengthAdjust="spacingAndGlyphs" stroke="#2c2c2c" stroke-width="0.2">500</text>
<text x="292.90" y="92.95" font-size="8.1" text-anchor="end" textLength="13.36" lengthAdjust="spacingAndGlyphs" stroke="#2c2c2c" stroke-width="0.2">600</text>
<text x="292.90" y="68.42" font-size="8.1" text-anchor="end" textLength="13.36" lengthAdjust="spacingAndGlyphs" stroke="#2c2c2c" stroke-width="0.2">700</text>
<text x="292.90" y="43.90" font-size="8.1" text-anchor="end" textLength="13.36" lengthAdjust="spacingAndGlyphs" stroke="#2c2c2c" stroke-width="0.2">800</text>
<text x="93.60" y="501.30" font-size="8.1" text-anchor="middle" textLength="9.16" lengthAdjust="spacingAndGlyphs" stroke="#2c2c2c" stroke-width="0.2">10</text>
<text x="136.00" y="501.30" font-size="8.1" text-anchor="middle" textLength="9.16" lengthAdjust="spacingAndGlyphs" stroke="#2c2c2c" stroke-width="0.2">20</text>
<text x="178.40" y="501.30" font-size="8.1" text-anchor="middle" textLength="9.16" lengthAdjust="spacingAndGlyphs" stroke="#2c2c2c" stroke-width="0.2">30</text>
<text x="220.80" y="501.30" font-size="8.1" text-anchor="middle" textLength="9.16" lengthAdjust="spacingAndGlyphs" stroke="#2c2c2c" stroke-width="0.2">40</text>
<text x="47.10" y="496.70" font-size="8.1" text-anchor="end" textLength="4.45" lengthAdjust="spacingAndGlyphs" stroke="#2c2c2c" stroke-width="0.2">0</text>
<text x="47.10" y="472.84" font-size="8.1" text-anchor="end" textLength="17.81" lengthAdjust="spacingAndGlyphs" stroke="#2c2c2c" stroke-width="0.2">5000</text>
<text x="47.10" y="448.98" font-size="8.1" text-anchor="end" textLength="24.49" lengthAdjust="spacingAndGlyphs" stroke="#2c2c2c" stroke-width="0.2">10,000</text>
<text x="47.10" y="425.11" font-size="8.1" text-anchor="end" textLength="24.49" lengthAdjust="spacingAndGlyphs" stroke="#2c2c2c" stroke-width="0.2">15,000</text>
<text x="47.10" y="401.25" font-size="8.1" text-anchor="end" textLength="24.49" lengthAdjust="spacingAndGlyphs" stroke="#2c2c2c" stroke-width="0.2">20,000</text>
<text x="47.10" y="377.39" font-size="8.1" text-anchor="end" textLength="24.49" lengthAdjust="spacingAndGlyphs" stroke="#2c2c2c" stroke-width="0.2">25,000</text>
<text x="47.10" y="353.52" font-size="8.1" text-anchor="end" textLength="24.49" lengthAdjust="spacingAndGlyphs" stroke="#2c2c2c" stroke-width="0.2">30,000</text>
<text x="47.10" y="329.66" font-size="8.1" text-anchor="end" textLength="24.49" lengthAdjust="spacingAndGlyphs" stroke="#2c2c2c" stroke-width="0.2">35,000</text>
<text x="47.10" y="305.80" font-size="8.1" text-anchor="end" textLength="24.49" lengthAdjust="spacingAndGlyphs" stroke="#2c2c2c" stroke-width="0.2">40,000</text>
<text x="310.07" y="501.30" font-size="8.1" text-anchor="middle" textLength="15.18" lengthAdjust="spacingAndGlyphs" stroke="#2c2c2c" stroke-width="0.2">Mon</text>
<text x="339.21" y="501.30" font-size="8.1" text-anchor="middle" textLength="12.30" lengthAdjust="spacingAndGlyphs" stroke="#2c2c2c" stroke-width="0.2">Tue</text>
<text x="368.36" y="501.30" font-size="8.1" text-anchor="middle" textLength="15.70" lengthAdjust="spacingAndGlyphs" stroke="#2c2c2c" stroke-width="0.2">Wed</text>
<text x="397.50" y="501.30" font-size="8.1" text-anchor="middle" textLength="13.52" lengthAdjust="spacingAndGlyphs" stroke="#2c2c2c" stroke-width="0.2">Thu</text>
<text x="426.64" y="501.30" font-size="8.1" text-anchor="middle" textLength="8.58" lengthAdjust="spacingAndGlyphs" stroke="#2c2c2c" stroke-width="0.2">Fri</text>
<text x="455.79" y="501.30" font-size="8.1" text-anchor="middle" textLength="11.81" lengthAdjust="spacingAndGlyphs" stroke="#2c2c2c" stroke-width="0.2">Sat</text>
<text x="484.93" y="501.30" font-size="8.1" text-anchor="middle" textLength="13.70" lengthAdjust="spacingAndGlyphs" stroke="#2c2c2c" stroke-width="0.2">Sun</text>
<text x="292.60" y="496.70" font-size="8.1" text-anchor="end" textLength="15.59" lengthAdjust="spacingAndGlyphs" stroke="#2c2c2c" stroke-width="0.2">0.00</text>
<text x="292.60" y="472.52" font-size="8.1" text-anchor="end" textLength="15.59" lengthAdjust="spacingAndGlyphs" stroke="#2c2c2c" stroke-width="0.2">0.25</text>
<text x="292.60" y="448.35" font-size="8.1" text-anchor="end" textLength="15.59" lengthAdjust="spacingAndGlyphs" stroke="#2c2c2c" stroke-width="0.2">0.50</text>
<text x="292.60" y="424.18" font-size="8.1" text-anchor="end" textLength="15.59" lengthAdjust="spacingAndGlyphs" stroke="#2c2c2c" stroke-width="0.2">0.75</text>
<text x="292.60" y="400.00" font-size="8.1" text-anchor="end" textLength="15.59" lengthAdjust="spacingAndGlyphs" stroke="#2c2c2c" stroke-width="0.2">1.00</text>
<text x="292.60" y="375.82" font-size="8.1" text-anchor="end" textLength="15.59" lengthAdjust="spacingAndGlyphs" stroke="#2c2c2c" stroke-width="0.2">1.25</text>
<text x="292.60" y="351.65" font-size="8.1" text-anchor="end" textLength="15.59" lengthAdjust="spacingAndGlyphs" stroke="#2c2c2c" stroke-width="0.2">1.50</text>
<text x="292.60" y="327.48" font-size="8.1" text-anchor="end" textLength="15.59" lengthAdjust="spacingAndGlyphs" stroke="#2c2c2c" stroke-width="0.2">1.75</text>
<text x="292.60" y="303.30" font-size="8.1" text-anchor="end" textLength="15.59" lengthAdjust="spacingAndGlyphs" stroke="#2c2c2c" stroke-width="0.2">2.00</text>
<text x="152.90" y="257.20" font-size="9.5" text-anchor="middle" textLength="21.54" lengthAdjust="spacingAndGlyphs" stroke="#2c2c2c" stroke-width="0.2">Time</text>
<text x="398.10" y="257.20" font-size="9.5" text-anchor="middle" textLength="21.54" lengthAdjust="spacingAndGlyphs" stroke="#2c2c2c" stroke-width="0.2">Time</text>
<text x="152.00" y="513.30" font-size="9.5" text-anchor="middle" textLength="96.52" lengthAdjust="spacingAndGlyphs" stroke="#2c2c2c" stroke-width="0.2">Plugin-length in hours</text>
<text x="397.20" y="513.00" font-size="9.5" text-anchor="middle" textLength="40.30" lengthAdjust="spacingAndGlyphs" stroke="#2c2c2c" stroke-width="0.2">Weekday</text>
<text transform="translate(24.00,132.00) rotate(-90)" font-size="9.5" text-anchor="middle" textLength="45.46" lengthAdjust="spacingAndGlyphs" stroke="#2c2c2c" stroke-width="0.2">Frequency</text>
<text transform="translate(273.90,132.00) rotate(-90)" font-size="9.5" text-anchor="middle" textLength="45.46" lengthAdjust="spacingAndGlyphs" stroke="#2c2c2c" stroke-width="0.2">Frequency</text>
<text transform="translate(16.60,388.60) rotate(-90)" font-size="9.5" text-anchor="middle" textLength="45.46" lengthAdjust="spacingAndGlyphs" stroke="#2c2c2c" stroke-width="0.2">Frequency</text>
<text transform="translate(271.20,387.40) rotate(-90)" font-size="9.5" text-anchor="middle" textLength="98.99" lengthAdjust="spacingAndGlyphs" stroke="#2c2c2c" stroke-width="0.2">Charging power [MW]</text>
<text x="152.40" y="19.40" font-size="10.2" text-anchor="middle" textLength="13.93" lengthAdjust="spacingAndGlyphs" stroke="#2c2c2c" stroke-width="0.2">(a)</text>
<text x="397.20" y="19.40" font-size="10.2" text-anchor="middle" textLength="14.15" lengthAdjust="spacingAndGlyphs" stroke="#2c2c2c" stroke-width="0.2">(b)</text>
<text x="152.00" y="275.80" font-size="10.2" text-anchor="middle" textLength="13.30" lengthAdjust="spacingAndGlyphs" stroke="#2c2c2c" stroke-width="0.2">(c)</text>
<text x="397.20" y="275.60" font-size="10.2" text-anchor="middle" textLength="14.15" lengthAdjust="spacingAndGlyphs" stroke="#2c2c2c" stroke-width="0.2">(d)</text>
<rect x="280.5" y="529" width="233.5" height="14" fill="#fff" stroke="#d6d6d6" stroke-width="0.8"/>
<rect x="283.6" y="532.6" width="14.6" height="5.0" fill="#2e5e0e" stroke="#1a1a1a" stroke-opacity="0.35" stroke-width="0.5"/>
<text x="304.20" y="537.60" font-size="8.0" text-anchor="start" textLength="25.38" lengthAdjust="spacingAndGlyphs" stroke="#2c2c2c" stroke-width="0.2">3.7 kW</text>
<rect x="347.7" y="532.6" width="14.6" height="5.0" fill="#8b3a10" stroke="#1a1a1a" stroke-opacity="0.35" stroke-width="0.5"/>
<text x="368.30" y="537.60" font-size="8.0" text-anchor="start" textLength="23.05" lengthAdjust="spacingAndGlyphs" stroke="#2c2c2c" stroke-width="0.2">11 kW</text>
<rect x="406.6" y="532.6" width="14.6" height="5.0" fill="#0000ff" stroke="#1a1a1a" stroke-opacity="0.35" stroke-width="0.5"/>
<text x="427.20" y="537.60" font-size="8.0" text-anchor="start" textLength="23.05" lengthAdjust="spacingAndGlyphs" stroke="#2c2c2c" stroke-width="0.2">22 kW</text>
<rect x="466.5" y="532.6" width="14.6" height="5.0" fill="#000000" stroke="#1a1a1a" stroke-opacity="0.35" stroke-width="0.5"/>
<text x="487.10" y="537.60" font-size="8.0" text-anchor="start" textLength="23.05" lengthAdjust="spacingAndGlyphs" stroke="#2c2c2c" stroke-width="0.2">50 kW</text>
</svg></body></html>
